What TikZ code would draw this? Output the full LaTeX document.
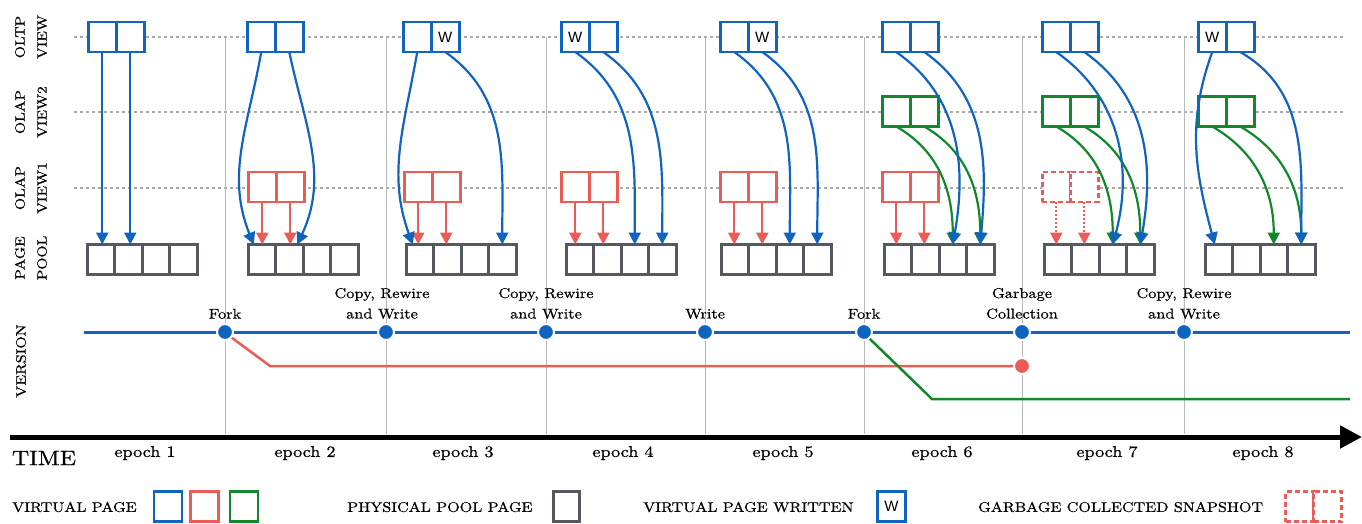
\documentclass[tikz,border=0pt]{standalone}
\usepackage{fontspec}
\setmainfont{lmroman10-regular.otf}[FakeStretch=1.15,FakeBold=0.6]
\newfontfamily\wfont{Liberation Sans}
\usetikzlibrary{positioning,arrows.meta}

\definecolor{vblue}{RGB}{16,100,192}
\definecolor{vred}{RGB}{236,92,86}
\definecolor{vgreen}{RGB}{18,136,42}
\definecolor{pgray}{RGB}{85,88,95}
\definecolor{guidegray}{RGB}{170,170,170}
\definecolor{sepgray}{RGB}{185,185,185}

\tikzset{
  vpage/.style={draw, fill=white, line width=2.5pt, minimum width=28pt, minimum height=30pt, inner sep=0pt, outer sep=0pt},
  oltp/.style={vpage, draw=vblue},
  snapone/.style={vpage, draw=vred},
  snaptwo/.style={vpage, draw=vgreen},
  gcpage/.style={vpage, draw=vred, dash pattern=on 5pt off 3pt},
  ppage/.style={draw=pgray, fill=white, line width=3pt, minimum width=27.5pt, minimum height=30pt, inner sep=0pt, outer sep=0pt},
  guide/.style={draw=guidegray, line width=2.5pt, dash pattern=on 2.5pt off 3.5pt},
  epochsep/.style={draw=sepgray, line width=0.8pt},
  link/.style={-{Triangle[width=12pt,length=12pt]}, line width=2.2pt},
  evdot/.style={circle, fill=vblue, draw=white, line width=2pt, minimum size=16pt, inner sep=0pt},
  evtext/.style={align=center, font=\fontsize{14.2}{20.5}\selectfont, inner sep=1pt},
  rowtext/.style={rotate=90, align=center, font=\fontsize{13.5}{22}\selectfont},
  legtext/.style={anchor=west, font=\fontsize{14}{16}\selectfont, inner sep=0pt},
  wmark/.style={font=\wfont\fontsize{15}{15}\selectfont, inner sep=0pt},
}

\begin{document}
\begin{tikzpicture}[x=1pt,y=1pt]
      %\draw[help lines,step=50] (0,-523) grid (1362,0);
      \useasboundingbox (0,0) rectangle (1362,-523);

      % guides and epoch borders
      \foreach \y in {37,112,188}
        \draw[guide] (74,-\y) -- (1345,-\y);
      \foreach \x in {225,386,546,705,864,1022,1184}
        \draw[epochsep] (\x,-37) -- (\x,-434);

      \node[rowtext] (rl1) at (31,-37) {OLTP\\VIEW};
      \node[rowtext] (rl2) at (31,-112) {OLAP\\VIEW2};
      \node[rowtext] (rl3) at (31,-188) {OLAP\\VIEW1};
      \node[rowtext] (rl4) at (31,-258) {PAGE\\POOL};
      \node[rowtext, font=\fontsize{13.8}{22}\selectfont] (rl5) at (21,-361) {VERSION};

      % oltp view and page pool
      \foreach \k/\tx/\px in {1/87/84,2/246/245,3/402/403,4/560/563,5/719/718,6/881/881,7/1041/1041,8/1197/1202} {
        \node[oltp] (t\k-a) at (\tx+15.25,-37) {};
        \node[oltp, right=0pt of t\k-a] (t\k-b) {};
        \node[ppage] (p\k-a) at (\px+16.75,-259.5) {};
        \node[ppage, right=0pt of p\k-a] (p\k-b) {};
        \node[ppage, right=0pt of p\k-b] (p\k-c) {};
        \node[ppage, right=0pt of p\k-c] (p\k-d) {};
      }

      % snapshots
      \foreach \k/\rx in {2/247,3/403,4/560,5/719,6/881} {
        \node[snapone] (r\k-a) at (\rx+15.25,-187) {};
        \node[snapone, right=0pt of r\k-a] (r\k-b) {};
        \draw[link, vred] (r\k-a.south) -- (r\k-a.south |- p\k-a.north);
        \draw[link, vred] (r\k-b.south) -- (r\k-b.south |- p\k-b.north);
      }
      \node[gcpage] (r7-a) at (1056.25,-187) {};
      \node[gcpage, right=0pt of r7-a] (r7-b) {};
      \draw[link, vred, dash pattern=on 2pt off 2pt] (r7-a.south) -- (r7-a.south |- p7-a.north);
      \draw[link, vred, dash pattern=on 2pt off 2pt] (r7-b.south) -- (r7-b.south |- p7-b.north);

      \foreach \k/\gx in {6/881,7/1041,8/1197} {
        \node[snaptwo] (g\k-a) at (\gx+15.25,-111.5) {};
        \node[snaptwo, right=0pt of g\k-a] (g\k-b) {};
        \draw[link, vgreen] (g\k-a.south) to[out=-30,in=90] (p\k-c.north);
        \draw[link, vgreen] (g\k-b.south) to[out=-30,in=90] (p\k-d.north);
      }

      \node[wmark] (w3) at (t3-b) {W};
      \node[wmark] (w4) at (t4-a) {W};
      \node[wmark] (w5) at (t5-b) {W};
      \node[wmark] (w8) at (t8-a) {W};

      % oltp links
      \draw[link, vblue] (t1-a.south) -- (t1-a.south |- p1-a.north);
      \draw[link, vblue] (t1-b.south) -- (t1-b.south |- p1-b.north);

      \draw[link, vblue] (t2-a.south) to[out=-100,in=112] ([xshift=-8pt]p2-a.north);
      \draw[link, vblue] (t2-b.south) to[out=-78,in=65] ([xshift=8pt]p2-b.north);

      \draw[link, vblue] (t3-a.south) to[out=-100,in=110] ([xshift=-7pt]p3-a.north);
      \draw[link, vblue] (t3-b.south) to[out=-35,in=90] (p3-d.north);

      \draw[link, vblue] (t4-a.south) to[out=-35,in=90] (p4-c.north);
      \draw[link, vblue] (t4-b.south) to[out=-35,in=90] (p4-d.north);

      \draw[link, vblue] (t5-a.south) to[out=-35,in=90] (p5-c.north);
      \draw[link, vblue] (t5-b.south) to[out=-35,in=90] (p5-d.north);

      \draw[link, vblue] (t6-a.south) to[out=-35,in=80] (p6-c.north);
      \draw[link, vblue] (t6-b.south) to[out=-35,in=85] (p6-d.north);

      \draw[link, vblue] (t7-a.south) to[out=-35,in=75] (p7-c.north);
      \draw[link, vblue] (t7-b.south) to[out=-35,in=80] (p7-d.north);

      \draw[link, vblue] (t8-a.south) to[out=-110,in=105] ([xshift=-4pt]p8-a.north);
      \draw[link, vblue] (t8-b.south) to[out=-30,in=90] (p8-d.north);

      % versions
      \coordinate (vstart) at (84,-332);
      \coordinate (vend) at (1350,-332);
      \draw[vblue, line width=3pt] (vstart) -- (vend);
      \foreach \i/\x in {1/225,2/386,3/546,4/705,5/864,6/1022,7/1184}
        \node[evdot] (v\i) at (\x,-332) {};

      \coordinate (rk) at (270,-366);
      \node[evdot, fill=vred] (gc) at (1022,-366) {};
      \draw[vred, line width=2.5pt] (v1.-40) -- (rk) -- (gc);

      \coordinate (gk) at (932,-399);
      \coordinate (gend) at (1350,-399);
      \draw[vgreen, line width=2.5pt] (v5.-50) -- (gk) -- (gend);

      \node[evtext, above=3pt of v1] (e1) {Fork};
      \node[evtext, above=3pt of v2, xshift=-4pt] (e2) {Copy, Rewire\\and Write};
      \node[evtext, above=3pt of v3] (e3) {Copy, Rewire\\and Write};
      \node[evtext, above=3pt of v4] (e4) {Write};
      \node[evtext, above=3pt of v5] (e5) {Fork};
      \node[evtext, above=3pt of v6] (e6) {Garbage\\Collection};
      \node[evtext, above=3pt of v7] (e7) {Copy, Rewire\\and Write};

      % time axis
      \coordinate (tstart) at (10,-437);
      \coordinate (tend) at (1362,-437);
      \draw[line width=5pt, -{Triangle[width=22pt,length=22pt]}] (tstart) -- (tend);
      \node[font=\fontsize{20.8}{24}\selectfont, inner sep=0pt] (timelbl) at (44,-458) {TIME};
      \foreach \i/\x in {1/145,2/305,3/463,4/623,5/783,6/942,7/1107,8/1263}
        \node[font=\fontsize{15.8}{18}\selectfont] (ep\i) at (\x,-453) {epoch \i};

      % legend
      \node[legtext] (lg1) at (12,-507) {VIRTUAL PAGE};
      \node[oltp] (lgb) at (168,-506.5) {};
      \node[snapone] (lgr) at (204.5,-506.5) {};
      \node[snaptwo] (lgg) at (244,-506.5) {};
      \node[legtext] (lg2) at (347,-507) {PHYSICAL POOL PAGE};
      \node[ppage, minimum width=26pt] (lgp) at (566.5,-506.5) {};
      \node[legtext] (lg3) at (643,-507) {VIRTUAL PAGE WRITTEN};
      \node[oltp, font=\wfont\fontsize{15}{15}\selectfont] (lgw) at (891.5,-506.5) {\raisebox{-3pt}{W}};
      \node[legtext] (lg4) at (978,-507) {GARBAGE COLLECTED SNAPSHOT};
      \node[gcpage] (lgs1) at (1299.5,-506.5) {};
      \node[gcpage, right=0pt of lgs1] (lgs2) {};
\end{tikzpicture}
\end{document}
